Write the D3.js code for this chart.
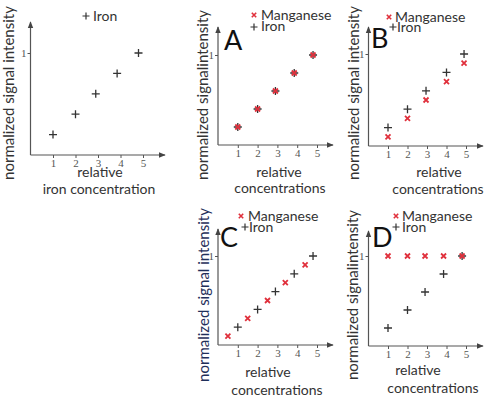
<!DOCTYPE html>
<html>
<head>
<meta charset="utf-8">
<script src="https://cdn.jsdelivr.net/npm/d3@7"></script>
<style>
  body { margin: 0; background: #fff; }
  svg text { font-family: Lato, "Open Sans", sans-serif; fill: #333; }
  .tick text { font-family: "Liberation Serif", "DejaVu Serif", serif; font-size: 11px; fill: #555; }
  .tick line { stroke: #555; }
</style>
</head>
<body>
<svg id="chart" width="485" height="399"></svg>
<script>
// Data
var xTicks = [1, 2, 3, 4, 5];
var yTicks = [1];
var concIron = [1, 2, 2.9, 3.85, 4.8];
var ironSignal = [0.2, 0.4, 0.6, 0.8, 1.0];
var concA = [1, 2, 2.9, 3.85, 4.8];
var mnSignalA = [0.2, 0.4, 0.6, 0.8, 1.0];
var concB = [1, 2, 2.95, 4, 4.9];
var ironSignalB = [0.2, 0.4, 0.6, 0.8, 1.0];
var mnSignalB = [0.1, 0.3, 0.5, 0.7, 0.9];
var concMnC = [0.5, 1.5, 2.5, 3.4, 4.4];
var mnSignalC = [0.1, 0.3, 0.5, 0.7, 0.9];
var concD = [1, 2, 2.9, 3.85, 4.8];
var mnSignalD = [1, 1, 1, 1, 1];

var svg = d3.select("#chart");
var defs = svg.append("defs");
defs.append("marker")
  .attr("id", "arrow")
  .attr("viewBox", "0 0 10 10")
  .attr("refX", 9).attr("refY", 5)
  .attr("markerWidth", 6).attr("markerHeight", 6)
  .attr("orient", "auto")
  .append("path")
  .attr("d", "M0,1L10,5L0,9Z")
  .attr("fill", "#444");

function plusPath(s) { return "M" + (-s) + ",0H" + s + "M0," + (-s) + "V" + s; }
function crossPath(s) { return "M" + (-s) + "," + (-s) + "L" + s + "," + s + "M" + (-s) + "," + s + "L" + s + "," + (-s); }

function draw_panel(p) {
  var g = svg.append("g");
  var x = d3.scaleLinear().domain([0, 5]).range([p.ox, p.x5]);
  var y = d3.scaleLinear().domain([0, 1]).range([p.oy, p.y1]);

  // axes with arrows
  g.append("line").attr("x1", p.ox).attr("x2", p.ox).attr("y1", p.oy).attr("y2", p.top)
    .attr("stroke", "#555").attr("stroke-width", 1.2).attr("marker-end", "url(#arrow)");
  g.append("line").attr("x1", p.ox).attr("x2", p.xEnd).attr("y1", p.oy).attr("y2", p.oy)
    .attr("stroke", "#555").attr("stroke-width", 1.2).attr("marker-end", "url(#arrow)");

  g.append("g").attr("transform", "translate(0," + p.oy + ")")
    .call(d3.axisBottom(x).tickValues(xTicks).tickSize(3).tickPadding(1).tickFormat(d3.format("d")))
    .call(function(a){ a.select(".domain").remove(); });
  g.append("g").attr("transform", "translate(" + p.ox + ",0)")
    .call(d3.axisLeft(y).tickValues(yTicks).tickSize(3).tickPadding(1).tickFormat(d3.format("d")))
    .call(function(a){ a.select(".domain").remove(); });

  // series
  (p.series || []).forEach(function(s) {
    g.append("g").selectAll("path")
      .data(s.ys.map(function(v, i){ return [s.xs[i], v]; }))
      .enter().append("path")
      .attr("transform", function(d){ return "translate(" + x(d[0]) + "," + y(d[1]) + ")"; })
      .attr("d", s.kind === "mn" ? crossPath(2.5) : plusPath(4))
      .attr("stroke", s.kind === "mn" ? "#e0303c" : "#333")
      .attr("stroke-width", s.kind === "mn" ? 1.8 : 1.3)
      .attr("fill", "none");
  });

  // legend
  (p.legend || []).forEach(function(l) {
    g.append("path").attr("transform", "translate(" + l.mx + "," + l.my + ")")
      .attr("d", l.kind === "mn" ? crossPath(2.2) : plusPath(3.5))
      .attr("stroke", l.kind === "mn" ? "#e0303c" : "#333")
      .attr("stroke-width", l.kind === "mn" ? 1.6 : 1.2).attr("fill", "none");
    g.append("text").attr("x", l.tx).attr("y", l.ty).style("font-size", "14px").text(l.text);
  });

  if (p.letter) {
    g.append("text").attr("x", p.letter.x).attr("y", p.letter.y)
      .style("font-size", "27px").style("fill", "#111").text(p.letter.t);
  }

  // axis titles
  p.xlab.forEach(function(l) {
    g.append("text").attr("x", l.x).attr("y", l.y).attr("text-anchor", "middle")
      .style("font-size", "14px").text(l.t);
  });
  g.append("text")
    .attr("transform", "translate(" + p.ylab.x + "," + p.ylab.y + ") rotate(-90)")
    .attr("text-anchor", "middle")
    .style("font-size", "15px")
    .style("fill", p.ylab.color || "#333")
    .text(p.ylab.t);
}

draw_panel({
  ox: 30.5, oy: 155, x5: 143, y1: 53, top: 22, xEnd: 165,
  series: [{kind: "fe", xs: concIron, ys: ironSignal}],
  legend: [{kind: "fe", mx: 86, my: 16, tx: 93, ty: 21, text: "Iron"}],
  xlab: [{x: 100, y: 177, t: "relative"}, {x: 99, y: 194, t: "iron concentration"}],
  ylab: {x: 14, y: 93, t: "normalized signal intensity"}
});

draw_panel({
  ox: 218, oy: 145, x5: 317, y1: 55, top: 27, xEnd: 333,
  series: [{kind: "fe", xs: concA, ys: ironSignal}, {kind: "mn", xs: concA, ys: mnSignalA}],
  legend: [{kind: "mn", mx: 254, my: 15, tx: 261, ty: 20, text: "Manganese"},
           {kind: "fe", mx: 254, my: 27, tx: 261, ty: 31, text: "Iron"}],
  letter: {x: 224, y: 50, t: "A"},
  xlab: [{x: 279, y: 177, t: "relative"}, {x: 280, y: 193, t: "concentrations"}],
  ylab: {x: 208, y: 95, t: "normalized signalintensity"}
});

draw_panel({
  ox: 368.5, oy: 146, x5: 466, y1: 54, top: 27, xEnd: 483,
  series: [{kind: "fe", xs: concB, ys: ironSignalB}, {kind: "mn", xs: concB, ys: mnSignalB}],
  legend: [{kind: "mn", mx: 389, my: 17, tx: 395, ty: 22, text: "Manganese"},
           {kind: "fe", mx: 393, my: 27, tx: 397, ty: 32, text: "Iron"}],
  letter: {x: 371, y: 48, t: "B"},
  xlab: [{x: 439, y: 177, t: "relative"}, {x: 438, y: 194, t: "concentrations"}],
  ylab: {x: 359, y: 93, t: "normalized signal intensity"}
});

draw_panel({
  ox: 218, oy: 345, x5: 317, y1: 256, top: 229, xEnd: 333,
  series: [{kind: "fe", xs: concA, ys: ironSignal}, {kind: "mn", xs: concMnC, ys: mnSignalC}],
  legend: [{kind: "mn", mx: 241, my: 216, tx: 248, ty: 221, text: "Manganese"},
           {kind: "fe", mx: 245, my: 227, tx: 249, ty: 232, text: "Iron"}],
  letter: {x: 220, y: 247, t: "C"},
  xlab: [{x: 268, y: 377, t: "relative"}, {x: 277, y: 395, t: "concentrations"}],
  ylab: {x: 209, y: 295, t: "normalized signal intensity", color: "#1f2f5a"}
});

draw_panel({
  ox: 368.5, oy: 346, x5: 466, y1: 256, top: 231, xEnd: 483,
  series: [{kind: "fe", xs: concD, ys: ironSignal}, {kind: "mn", xs: concD, ys: mnSignalD}],
  legend: [{kind: "mn", mx: 396, my: 216, tx: 402, ty: 221, text: "Manganese"},
           {kind: "fe", mx: 396, my: 227, tx: 402, ty: 232, text: "Iron"}],
  letter: {x: 372, y: 247, t: "D"},
  xlab: [{x: 418, y: 375, t: "relative"}, {x: 433, y: 393, t: "concentrations"}],
  ylab: {x: 358, y: 295, t: "normalized signalintensity"}
});
</script>
</body>
</html>
